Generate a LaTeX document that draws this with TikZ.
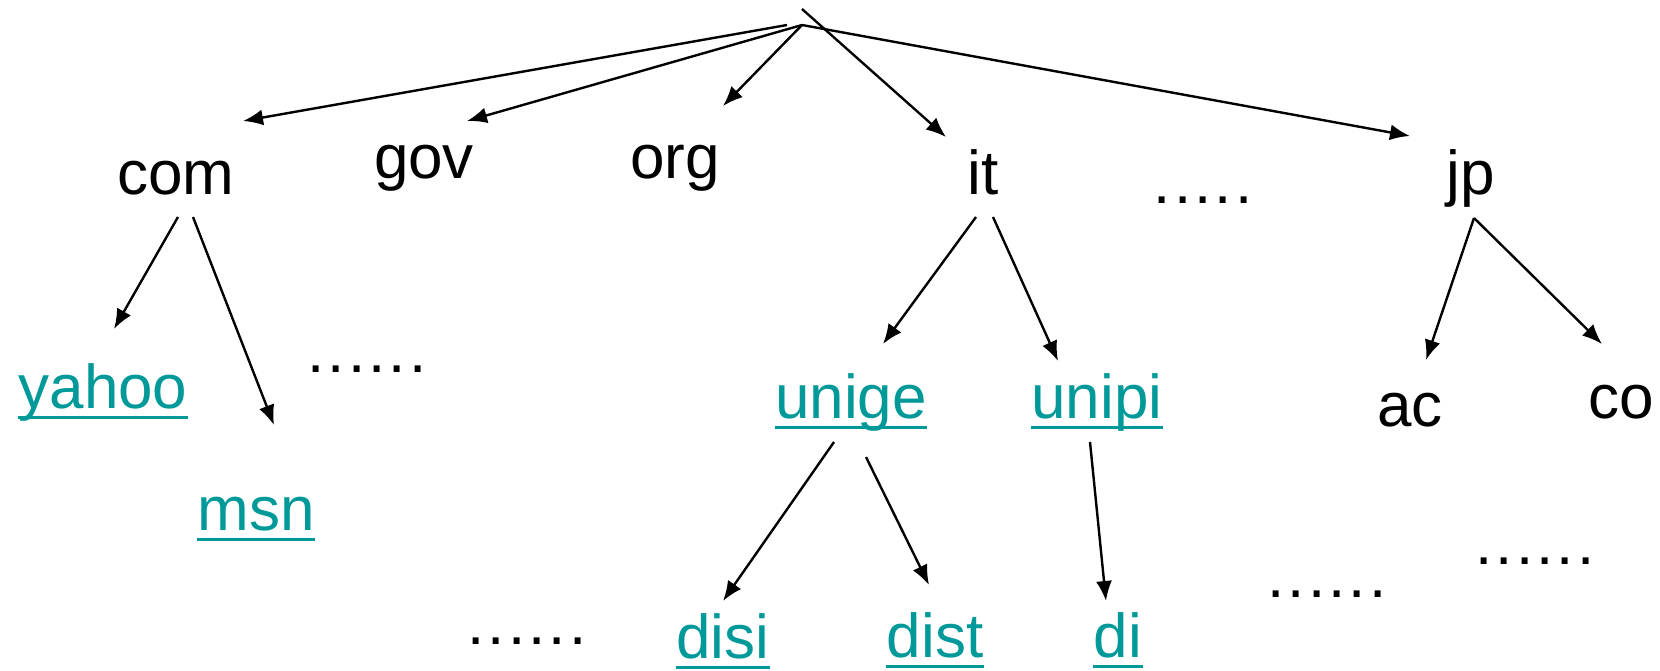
\documentclass[tikz,border=0pt]{standalone}
\usepackage{fontspec}
\setmainfont{Liberation Sans}
\usetikzlibrary{arrows.meta}
\definecolor{linkteal}{RGB}{0,153,153}
\begin{document}
\begin{tikzpicture}[x=0.5pt,y=-0.5pt,
  label/.style={inner sep=0pt, anchor=base, font=\fontsize{31}{37}\selectfont},
  link/.style={label, text=linkteal},
  ellipsis/.style={label, font=\fontsize{31}{37}\selectfont\addfontfeature{LetterSpace=5}},
  uline/.style={draw=linkteal, line width=1.5pt},
  arr/.style={line width=1.2pt, -{Latex[length=10pt,width=8pt]}}]
\useasboundingbox (0,0) rectangle (1660,670);

% root of the name tree
\coordinate (root) at (802,25);
\coordinate (rootTop) at (802,9);

% top-level domains
\node[label] (com) at (176,194) {com};
\node[label] (gov) at (424,178) {gov};
\node[label] (org) at (675,178) {org};
\node[label] (it)  at (983,194) {it};
\node[ellipsis] (dotsA) at (1203,203) {.....};
\node[label] (jp)  at (1471,194) {jp};

% second level
\node[link] (yahoo) at (103,408) {yahoo};
\node[link] (msn)   at (256,530) {msn};
\node[ellipsis] (dotsB) at (367,372) {......};
\node[link] (unige) at (851,418) {unige};
\node[link] (unipi) at (1097,418) {unipi};
\node[label] (ac) at (1410,426) {ac};
\node[label] (co) at (1621,418) {co};

% third level
\node[ellipsis] (dotsC) at (527,644) {......};
\node[link] (disi) at (723,658) {disi};
\node[link] (dist) at (935,657) {dist};
\node[link] (di)   at (1118,657) {di};
\node[ellipsis] (dotsD) at (1327,597) {......};
\node[ellipsis] (dotsE) at (1535,564) {......};

% underlines of the linked names
\foreach \n in {yahoo,msn,unige,unipi,disi,dist,di}
  \draw[uline] ([yshift=-4.5pt]\n.base west) -- ([yshift=-4.5pt]\n.base east);

% edges from the root
\draw[arr] ([xshift=-7.5pt]root) -- ([shift={(67,-73)}]com.base);
\draw[arr] (root) -- ([shift={(43,-57)}]gov.base);
\draw[arr] (root) -- ([shift={(48,-72)}]org.base);
\draw[arr] (rootTop) -- ([shift={(-37,-57)}]it.base);
\draw[arr] (root) -- ([shift={(-61,-58)}]jp.base);

% lower edges
\draw[arr] ([shift={(2,23)}]com.base) -- ([shift={(11,-79)}]yahoo.base);
\draw[arr] ([shift={(17,23)}]com.base) -- ([shift={(18,-105)}]msn.base);
\draw[arr] ([shift={(-7,23)}]it.base) -- ([shift={(32,-74)}]unige.base);
\draw[arr] ([shift={(10,23)}]it.base) -- ([shift={(-39,-57)}]unipi.base);
\draw[arr] ([shift={(-17,24)}]unige.base) -- ([shift={(0,-57)}]disi.base);
\draw[arr] ([shift={(15,39)}]unige.base) -- ([shift={(-6,-72)}]dist.base);
\draw[arr] ([shift={(-7,24)}]unipi.base) -- ([shift={(-12,-56)}]di.base);
\draw[arr] ([shift={(3,24)}]jp.base) -- ([shift={(16,-66)}]ac.base);
\draw[arr] ([shift={(3,24)}]jp.base) -- ([shift={(-19,-74)}]co.base);
\end{tikzpicture}
\end{document}
